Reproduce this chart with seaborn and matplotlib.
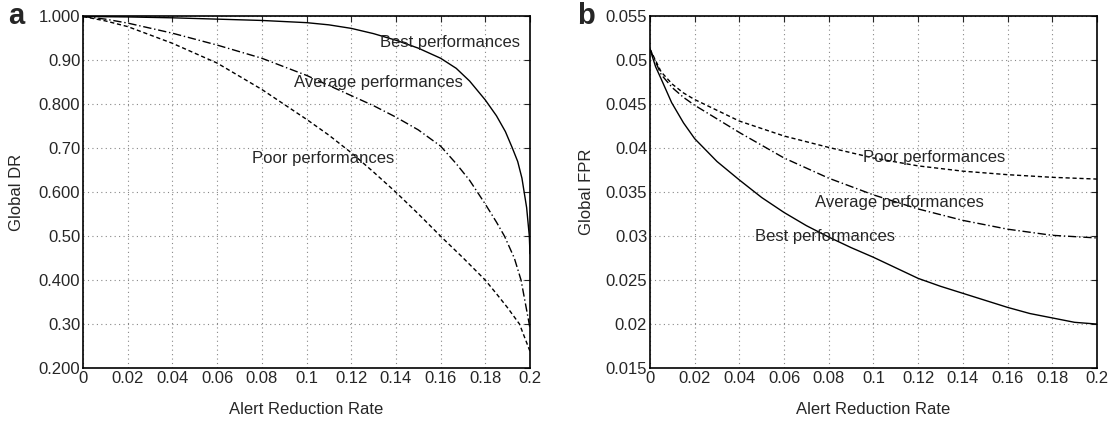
import pandas as pd
import matplotlib
matplotlib.use("Agg")
import matplotlib.pyplot as plt
import seaborn as sns

sns.set_style("white")
plt.rcParams['font.family'] = ['Liberation Sans', 'DejaVu Sans']

# panel a: Global DR vs alert reduction rate
dr_best_x = [0, 0.02, 0.04, 0.06, 0.08, 0.1, 0.11, 0.12, 0.13, 0.14, 0.15, 0.16, 0.167, 0.173, 0.18, 0.185,
             0.189, 0.192, 0.1945, 0.1964, 0.1985, 0.1997, 0.2]
dr_best_y = [1.0, 0.999, 0.997, 0.994, 0.991, 0.986, 0.981, 0.973, 0.961, 0.946, 0.928, 0.905, 0.882, 0.853,
             0.81, 0.774, 0.738, 0.702, 0.67, 0.632, 0.565, 0.5, 0.46]
dr_avg_x = [0, 0.01, 0.02, 0.04, 0.06, 0.08, 0.1, 0.12, 0.13, 0.14, 0.15, 0.16, 0.167, 0.173, 0.18, 0.185,
            0.1886, 0.193, 0.196, 0.1993, 0.2]
dr_avg_y = [1.0, 0.994, 0.985, 0.962, 0.935, 0.905, 0.866, 0.82, 0.797, 0.771, 0.742, 0.705, 0.665, 0.627,
            0.573, 0.532, 0.5, 0.45, 0.4, 0.31, 0.29]
dr_poor_x = [0, 0.01, 0.02, 0.04, 0.06, 0.08, 0.1, 0.11, 0.12, 0.13, 0.14, 0.15, 0.16, 0.17, 0.18, 0.185, 0.19,
             0.1953, 0.2]
dr_poor_y = [1.0, 0.99, 0.977, 0.939, 0.894, 0.834, 0.766, 0.73, 0.69, 0.646, 0.6, 0.551, 0.5, 0.451, 0.4,
             0.369, 0.337, 0.3, 0.238]

# panel b: Global FPR vs alert reduction rate
fpr_best_x = [0, 0.0025, 0.005, 0.0097, 0.015, 0.02, 0.03, 0.04, 0.05, 0.06, 0.07, 0.08, 0.09, 0.1, 0.11,
              0.12, 0.13, 0.14, 0.15, 0.16, 0.17, 0.18, 0.19, 0.2]
fpr_best_y = [0.0513, 0.0493, 0.0479, 0.0452, 0.0429, 0.0411, 0.0385, 0.0364, 0.0344, 0.0327, 0.0312, 0.0299,
              0.0287, 0.0276, 0.0264, 0.0252, 0.0243, 0.0235, 0.0227, 0.0219, 0.0212, 0.0207, 0.0202, 0.0200]
fpr_avg_x = [0, 0.005, 0.01, 0.015, 0.02, 0.04, 0.06, 0.08, 0.1, 0.12, 0.14, 0.16, 0.18, 0.2]
fpr_avg_y = [0.0513, 0.0484, 0.0469, 0.0458, 0.0449, 0.0418, 0.0389, 0.0366, 0.0347, 0.0331, 0.0318, 0.0308,
             0.0301, 0.0298]
fpr_poor_x = [0, 0.005, 0.01, 0.015, 0.02, 0.04, 0.06, 0.08, 0.1, 0.12, 0.14, 0.16, 0.18, 0.2]
fpr_poor_y = [0.0513, 0.0487, 0.0473, 0.0463, 0.04555, 0.0431, 0.0414, 0.0401, 0.0389, 0.0380, 0.0374, 0.0370,
              0.0367, 0.0365]

x_ticks = [0, 0.02, 0.04, 0.06, 0.08, 0.1, 0.12, 0.14, 0.16, 0.18, 0.2]
x_labels = ["0", "0.02", "0.04", "0.06", "0.08", "0.1", "0.12", "0.14", "0.16", "0.18", "0.2"]
dr_ticks = [0.2, 0.3, 0.4, 0.5, 0.6, 0.7, 0.8, 0.9, 1.0]
dr_labels = ["0.200", "0.30", "0.400", "0.50", "0.600", "0.70", "0.800", "0.90", "1.000"]
fpr_ticks = [0.015, 0.02, 0.025, 0.03, 0.035, 0.04, 0.045, 0.05, 0.055]
fpr_labels = ["0.015", "0.02", "0.025", "0.03", "0.035", "0.04", "0.045", "0.05", "0.055"]


def make_df(best_x, best_y, avg_x, avg_y, poor_x, poor_y):
    parts = []
    for name, xs, ys in [("Best", best_x, best_y), ("Average", avg_x, avg_y), ("Poor", poor_x, poor_y)]:
        parts.append(pd.DataFrame({"x": xs, "y": ys, "perf": name}))
    return pd.concat(parts, ignore_index=True)


df_dr = make_df(dr_best_x, dr_best_y, dr_avg_x, dr_avg_y, dr_poor_x, dr_poor_y)
df_fpr = make_df(fpr_best_x, fpr_best_y, fpr_avg_x, fpr_avg_y, fpr_poor_x, fpr_poor_y)

dash_map = {"Best": "", "Average": (6, 2, 1, 2), "Poor": (3, 2)}
fs = 12

fig = plt.figure(figsize=(11.16, 4.23), dpi=100)
ax1 = fig.add_axes([0.0744, 0.130, 0.4005, 0.831])
ax2 = fig.add_axes([0.5824, 0.130, 0.4005, 0.831])

for ax, df in [(ax1, df_dr), (ax2, df_fpr)]:
    sns.lineplot(data=df, x="x", y="y", style="perf", dashes=dash_map, color="black",
                 linewidth=1, legend=False, estimator=None, sort=False, ax=ax)
    ax.set_xlim(0, 0.2)
    ax.set_xticks(x_ticks)
    ax.set_xticklabels(x_labels)
    ax.set_xlabel("Alert Reduction Rate", fontsize=fs)
    ax.xaxis.set_label_coords(0.5, -0.097)
    ax.grid(True, linestyle=(0, (1, 3)), color="#888888", linewidth=0.8)
    ax.tick_params(direction="in", top=True, right=True, labelsize=fs, length=4, width=0.8, pad=2)
    for s in ax.spines.values():
        s.set_color("black")
        s.set_linewidth(1.2)

ax1.set_ylim(0.2, 1.0)
ax1.set_yticks(dr_ticks)
ax1.set_yticklabels(dr_labels)
ax1.set_ylabel("Global DR", fontsize=fs)
ax1.yaxis.set_label_coords(-0.132, 0.5)
ax1.text(0.1329, 0.9415, "Best performances", fontsize=fs, va="center")
ax1.text(0.0944, 0.849, "Average performances", fontsize=fs, va="center")
ax1.text(0.0756, 0.677, "Poor performances", fontsize=fs, va="center")

ax2.set_ylim(0.015, 0.055)
ax2.set_yticks(fpr_ticks)
ax2.set_yticklabels(fpr_labels)
ax2.set_ylabel("Global FPR", fontsize=fs)
ax2.yaxis.set_label_coords(-0.125, 0.5)
ax2.text(0.0954, 0.0389, "Poor performances", fontsize=fs, va="center")
ax2.text(0.0738, 0.0338, "Average performances", fontsize=fs, va="center")
ax2.text(0.047, 0.0300, "Best performances", fontsize=fs, va="center")

fig.text(0.007, 0.962, "a", fontsize=21, fontweight="bold", va="center")
fig.text(0.517, 0.962, "b", fontsize=21, fontweight="bold", va="center")

fig.savefig("out.png", dpi=100)
